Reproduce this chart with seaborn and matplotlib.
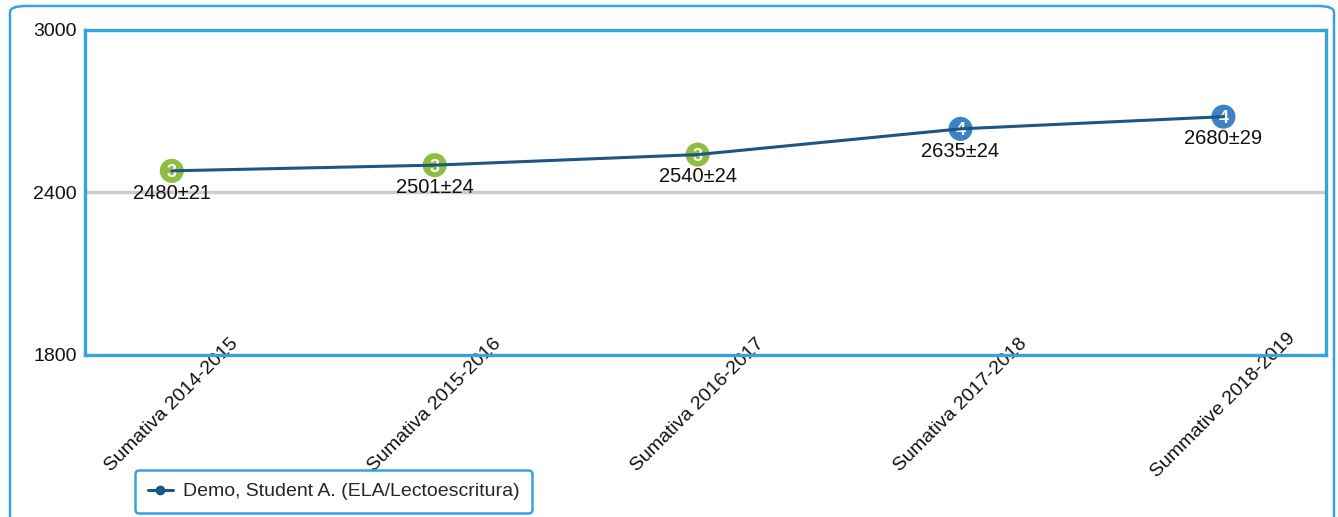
import matplotlib
matplotlib.use("Agg")
import matplotlib.pyplot as plt
from matplotlib.lines import Line2D
from matplotlib.patches import FancyBboxPatch
import numpy as np
import pandas as pd
import seaborn as sns

# data
terms = ['Sumativa 2014-2015', 'Sumativa 2015-2016', 'Sumativa 2016-2017',
         'Sumativa 2017-2018', 'Summative 2018-2019']
scores = [2480, 2501, 2540, 2635, 2680]
errors = [21, 24, 24, 24, 29]
levels = [3, 3, 3, 4, 4]
y_ticks = [1800, 2400, 3000]
series_name = 'Demo, Student A. (ELA/Lectoescritura)'

frame_blue = '#35a4dc'
line_blue = '#1b5684'
level_colors = {3: '#8dbe3f', 4: '#3b83c4'}

sns.set_theme(style='white')
plt.rcParams['font.family'] = ['Liberation Sans', 'DejaVu Sans']

df = pd.DataFrame({'pos': np.arange(len(terms)), 'term': terms, 'score': scores,
                   'err': errors, 'level': levels})

fig = plt.figure(figsize=(13.38, 5.17), dpi=100)
ax = fig.add_axes([85 / 1338, 1 - 355 / 517, (1326 - 85) / 1338, (355 - 30) / 517])

# outer rounded panel
panel = FancyBboxPatch((10 / 1338, -0.2), 1324 / 1338, 1.2 - 6 / 517,
                       boxstyle='round,pad=0,rounding_size=0.012',
                       transform=fig.transFigure, fill=False,
                       edgecolor=frame_blue, linewidth=1.8, zorder=0)
fig.patches.append(panel)

ax.axhline(2400, color='#cccccc', linewidth=2.5, zorder=1)

# level badges under the line
sns.scatterplot(data=df, x='pos', y='score', hue='level', palette=level_colors,
                s=300, edgecolor='none', legend=False, ax=ax, zorder=2)
for _, r in df.iterrows():
    ax.text(r['pos'], r['score'], str(r['level']), color='white', fontsize=13,
            fontweight='bold', ha='center', va='center_baseline', zorder=3)

sns.lineplot(data=df, x='pos', y='score', color=line_blue, linewidth=2.2,
             ax=ax, zorder=4)

for _, r in df.iterrows():
    ax.annotate(f"{r['score']}±{r['err']}", (r['pos'], r['score']),
                xytext=(0, -16), textcoords='offset points', ha='center', va='center',
                fontsize=14.5, color='#111111', zorder=5)

ax.set_xlim(-0.33, len(terms) - 1 + 0.39)
ax.set_ylim(y_ticks[0], y_ticks[-1])
ax.set_yticks(y_ticks)
ax.set_yticklabels([str(t) for t in y_ticks], fontsize=14, color='#111111')
ax.set_xticks(df['pos'])
ax.set_xticklabels(terms, fontsize=14, color='#111111', rotation=45,
                   ha='center', va='center', rotation_mode='anchor')
ax.tick_params(axis='x', length=0, pad=36)
ax.tick_params(axis='y', length=0, pad=6)
ax.set_xlabel('')
ax.set_ylabel('')
for sp in ax.spines.values():
    sp.set_color(frame_blue)
    sp.set_linewidth(2.4)

handle = Line2D([], [], color=line_blue, linewidth=2.2, marker='o', markersize=6)
leg = fig.legend([handle], [series_name], loc='lower left',
                 bbox_to_anchor=(135 / 1338, 1 - 513 / 517), borderaxespad=0,
                 fontsize=14, frameon=True, fancybox=True, handlelength=1.3,
                 handletextpad=0.5, borderpad=0.65)
frame = leg.get_frame()
frame.set_edgecolor(frame_blue)
frame.set_linewidth(1.8)
frame.set_facecolor('white')
frame.set_alpha(1)

fig.savefig('out.png', dpi=100)
